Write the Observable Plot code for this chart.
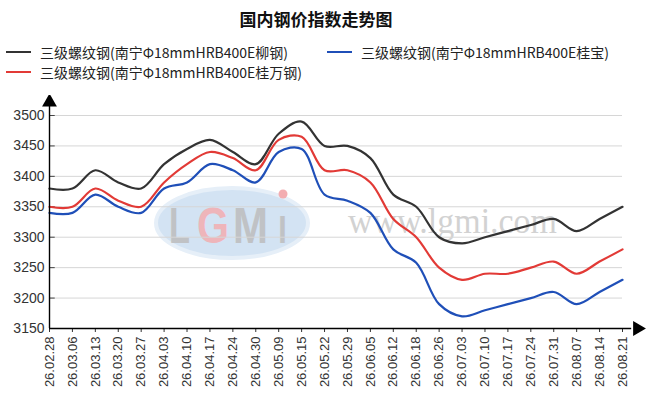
<!DOCTYPE html>
<html>
<head>
<meta charset="utf-8">
<script src="https://cdn.jsdelivr.net/npm/d3@7"></script>
<script src="https://cdn.jsdelivr.net/npm/@observablehq/plot@0.6"></script>
<style>
  html, body { margin: 0; padding: 0; background: #fff; }
  #wrap { position: relative; width: 650px; height: 409px; overflow: hidden; font-family: "Liberation Sans", Arial, "Noto Sans CJK SC", sans-serif; }
  #title { position: absolute; left: 0; width: 632px; top: 6px; text-align: center; font-size: 17px; font-weight: bold; color: #111; font-family: "Noto Sans CJK SC", sans-serif; }
  .leg { position: absolute; display: flex; align-items: center; font-size: 14px; color: #222; font-family: "Noto Sans CJK SC", sans-serif; white-space: nowrap; }
  .leg .sw { width: 25px; height: 2.5px; margin-right: 9px; }
  #wm { position: absolute; left: 0; top: 0; z-index: 0; }
  #chart { position: absolute; left: 0; top: 95px; z-index: 1; }
</style>
</head>
<body>
<div id="wrap">
  <svg id="wm" width="650" height="409">
    <ellipse cx="232" cy="223" rx="76" ry="35" fill="#d3e3f3" stroke="#e6eff8" stroke-width="4"/>
    <g font-family="Liberation Sans" font-weight="bold" font-size="50" opacity="0.85">
      <text x="169" y="243" fill="#bdbdbd" textLength="21" lengthAdjust="spacingAndGlyphs">L</text>
      <text x="197" y="243" fill="#f3adb1" textLength="32" lengthAdjust="spacingAndGlyphs">G</text>
      <text x="233" y="243" fill="#bdbdbd" textLength="35" lengthAdjust="spacingAndGlyphs">M</text>
      <text x="278" y="243" fill="#bdbdbd" textLength="9" lengthAdjust="spacingAndGlyphs">ı</text>
    </g>
    <circle cx="283" cy="194" r="4.5" fill="#f3adb1"/>
    <text x="348" y="233" font-family="Liberation Serif" font-size="36" fill="#d2d2d2" textLength="209" lengthAdjust="spacingAndGlyphs">www.lgmi.com</text>
  </svg>
  <div id="title">国内钢价指数走势图</div>
  <div id="legend"></div>
  <div id="chart"></div>
</div>
<script>
const dates = ["26.02.28","26.03.06","26.03.13","26.03.20","26.03.27","26.04.03","26.04.10","26.04.17","26.04.24","26.04.30","26.05.09","26.05.15","26.05.22","26.05.29","26.06.05","26.06.12","26.06.18","26.06.26","26.07.03","26.07.10","26.07.17","26.07.24","26.07.31","26.08.07","26.08.14","26.08.21"];
const seriesNames = ["三级螺纹钢(南宁Φ18mmHRB400E柳钢)","三级螺纹钢(南宁Φ18mmHRB400E桂宝)","三级螺纹钢(南宁Φ18mmHRB400E桂万钢)"];
const seriesColors = ["#333333","#1f4fb8","#e23a36"];
const liugang = [3380,3380,3410,3390,3380,3420,3445,3460,3440,3420,3470,3490,3450,3450,3430,3370,3350,3300,3290,3300,3310,3320,3330,3310,3330,3350];
const guibao  = [3340,3340,3370,3350,3340,3380,3390,3420,3410,3390,3440,3445,3370,3360,3340,3280,3258,3190,3170,3180,3190,3200,3210,3190,3210,3230];
const guiwan  = [3350,3350,3380,3360,3350,3390,3420,3440,3430,3410,3460,3465,3410,3410,3390,3330,3300,3250,3230,3240,3240,3250,3260,3240,3260,3280];
const yTicks = [3150,3200,3250,3300,3350,3400,3450,3500];

const seriesValues = [liugang, guibao, guiwan];
const rows = [];
seriesValues.forEach((vals, s) => vals.forEach((v, i) => rows.push({i, date: dates[i], value: v, series: seriesNames[s]})));

// legend
const legendPos = [{left: 6, top: 42}, {left: 327, top: 42}, {left: 6, top: 62}];
const legend = document.getElementById("legend");
seriesNames.forEach((name, k) => {
  const d = document.createElement("div");
  d.className = "leg";
  d.style.left = legendPos[k].left + "px";
  d.style.top = legendPos[k].top + "px";
  d.innerHTML = `<span class="sw" style="background:${seriesColors[k]}"></span><span>${name}</span>`;
  legend.appendChild(d);
});

const n = dates.length - 1;
const yMin = yTicks[0], yMax = yTicks[yTicks.length - 1];

const chart = Plot.plot({
  width: 650,
  height: 314,
  marginLeft: 49,
  marginRight: 28,
  marginTop: 20,
  marginBottom: 81,
  style: {background: "transparent", fontFamily: "Liberation Sans, Arial, sans-serif", color: "#333"},
  x: {type: "linear", domain: [0, n]},
  y: {domain: [yMin, yMax]},
  color: {domain: seriesNames, range: seriesColors},
  marks: [
    Plot.ruleY(yTicks, {x1: 0, x2: n, stroke: "#d6d6d6", strokeWidth: 1}),
    Plot.ruleY(yTicks, {x1: 0, x2: 0.25, stroke: "#444", strokeWidth: 1}),
    Plot.axisY({ticks: yTicks, tickFormat: d3.format("d"), tickSize: 0, tickPadding: 5, fontSize: 14, label: null}),
    Plot.axisX({ticks: d3.range(dates.length), tickFormat: i => dates[i], tickRotate: -90, tickSize: 4, tickPadding: 4, fontSize: 13, label: null, style: {letterSpacing: "0.6px"}}),
    Plot.lineY(rows, {x: "i", y: "value", stroke: "series", curve: "catmull-rom", strokeWidth: 2.2}),
    Plot.ruleX([0], {y1: yMin, y2: yMax + 18, stroke: "#000", strokeWidth: 1.4}),
    Plot.ruleY([yMin], {x1: 0, x2: n + 0.4, stroke: "#000", strokeWidth: 1.4}),
    Plot.dot([{x: 0, y: yMax + 22}], {x: "x", y: "y", symbol: "triangle", r: 5.5, fill: "#000", stroke: null}),
    Plot.dot([{x: n + 0.65, y: yMin}], {x: "x", y: "y", symbol: "triangle", rotate: 90, r: 5.5, fill: "#000", stroke: null})
  ]
});
document.getElementById("chart").appendChild(chart);
</script>
</body>
</html>
